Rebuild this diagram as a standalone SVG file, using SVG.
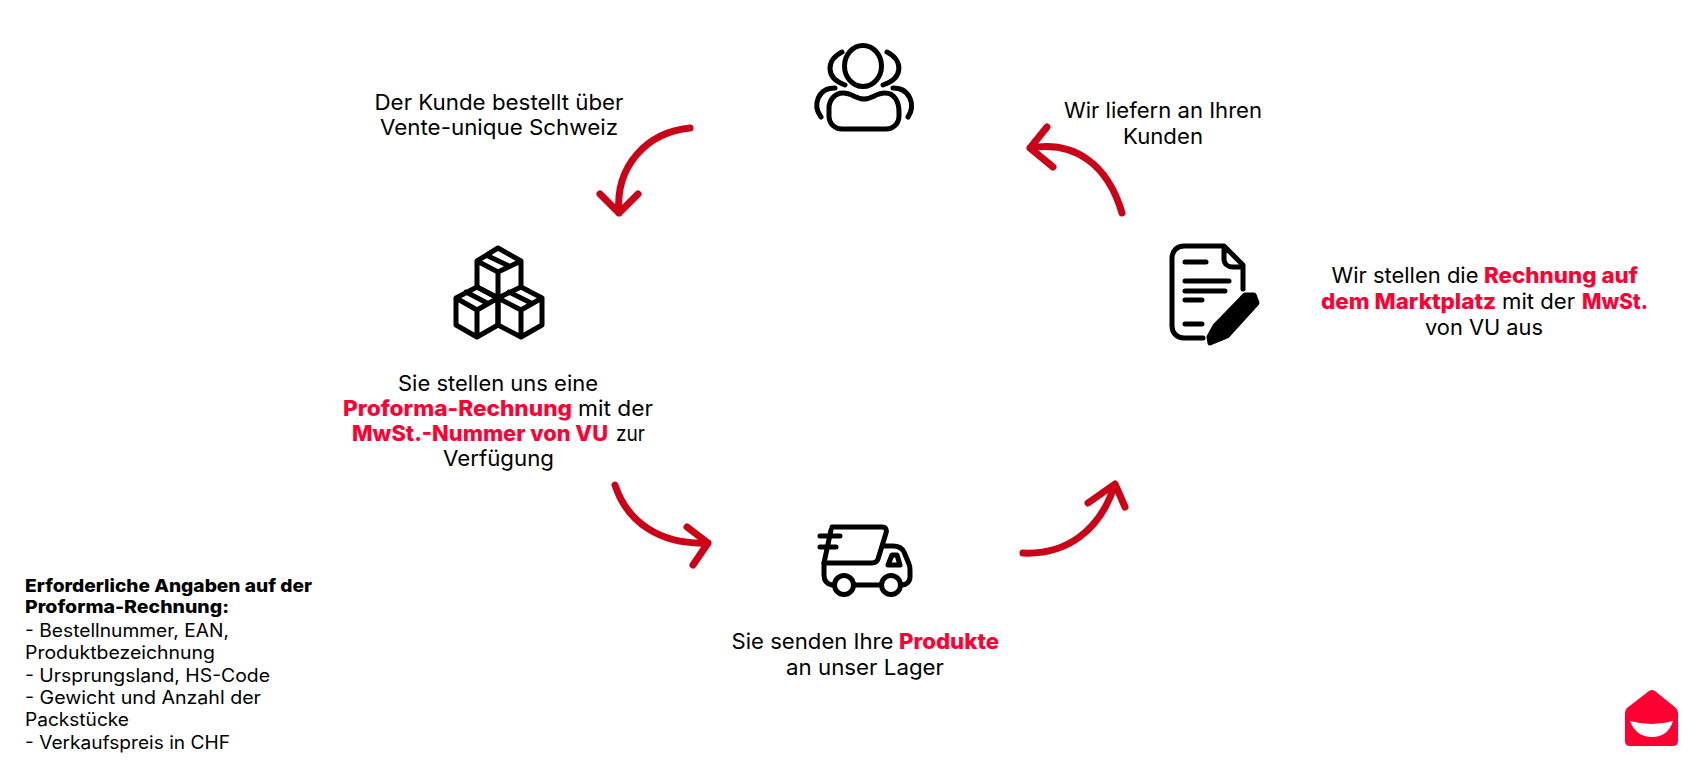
<svg xmlns="http://www.w3.org/2000/svg" width="1692" height="767" viewBox="0 0 1692 767">
<style>
text{font-family:"Inter","Open Sans","Liberation Sans",sans-serif;fill:#000}
.m{font-size:21.500px}
.s{font-size:18px}
.b{font-weight:800}
.r{font-weight:800;fill:#ff0033}
.ic{fill:none;stroke:#000;stroke-width:5;stroke-linecap:round;stroke-linejoin:round}
.ar{fill:none;stroke:#cc0017;stroke-width:7;stroke-linecap:round;stroke-linejoin:round}
</style>
<rect width="1692" height="767" fill="#fff"/>
<g id="connectors">
<path class="ar" d="M690 128C648 132 615 165 619 213M600 194L619 213L638 194"/>
<path class="ar" d="M1122 213C1108 165 1075 140 1030 148M1047 127L1030 148L1053 167"/>
<path class="ar" d="M615 485C627 522 660 545 708 543M687 527L708 543L693 565"/>
<path class="ar" d="M1023 553C1065 555 1100 532 1115 484M1088 503L1115 484L1125 507"/>
</g>
<g id="node-customer">
<g class="ic">
<ellipse cx="863" cy="66" rx="18.500" ry="20.500"/>
<path d="M842 52C826 60 825 78 845 85M887 52C903 60 904 78 883 85"/>
<path d="M835 88C818 88 812 105 821 117M893 88C910 88 916 105 908 117"/>
<path d="M843 93C852 93 856 99 864 99C872 99 876 93 885 93C894 93 899 101 899 112V116C899 124 893 129 886 129H842C835 129 829 124 829 116V108C829 100 835 93 843 93Z"/>
</g>
<text class="m" x="374.500" y="110" textLength="249" lengthAdjust="spacingAndGlyphs">Der Kunde bestellt über</text>
<text class="m" x="380" y="135" textLength="238" lengthAdjust="spacingAndGlyphs">Vente-unique Schweiz</text>
</g>
<g id="node-boxes">
<g class="ic">
<path d="M498 248L521 261V287L498 298L477 287V261ZM477 261L498 272L521 261M498 272V298M488 256L509 266"/>
<path d="M477 287L498 298V325L477 337L456 325V298ZM456 298L477 310L498 298M477 310V337M466 292L487 303"/>
<path d="M521 287L542 298V325L521 337L498 325V298M498 298L521 310L542 298M521 310V337M509 292L531 303"/>
</g>
<text class="m" x="398" y="391" textLength="200" lengthAdjust="spacingAndGlyphs">Sie stellen uns eine</text>
<text class="m" y="416"><tspan class="r" x="343" textLength="229" lengthAdjust="spacingAndGlyphs">Proforma-Rechnung</tspan><tspan x="578" textLength="75" lengthAdjust="spacingAndGlyphs">mit der</tspan></text>
<text class="m" y="441"><tspan class="r" x="352" textLength="256" lengthAdjust="spacingAndGlyphs">MwSt.-Nummer von VU</tspan><tspan x="616" textLength="29" lengthAdjust="spacingAndGlyphs">zur</tspan></text>
<text class="m" x="443" y="466" textLength="111" lengthAdjust="spacingAndGlyphs">Verfügung</text>
</g>
<g id="node-truck">
<g class="ic">
<path d="M832 527H882C886 527 887 530 886 533L878 559C877 562 875 563 872 563H824L831 530"/>
<path d="M820 536H840M820 547H836"/>
<path d="M824 563V575C824 581 827 584 832 585M855 585H880M883 546H893C898 546 902 548 904 552L909 564C910 566 910 568 910 570V577C910 582 906 585 902 585"/>
<circle cx="844" cy="585" r="9.500"/>
<circle cx="891" cy="585" r="9.500"/>
<path d="M888 565L892 555H897L900 565Z"/>
</g>
<text class="m" y="649"><tspan x="731.500" textLength="162" lengthAdjust="spacingAndGlyphs">Sie senden Ihre</tspan><tspan class="r" x="899" textLength="100" lengthAdjust="spacingAndGlyphs">Produkte</tspan></text>
<text class="m" x="786" y="675" textLength="158" lengthAdjust="spacingAndGlyphs">an unser Lager</text>
</g>
<g id="node-invoice">
<g class="ic">
<path d="M1203 338H1184C1177 338 1172 333 1172 326V258C1172 251 1177 246 1184 246H1224L1243 265V289M1224 246V259C1224 264 1228 267 1233 267H1243"/>
<path d="M1185 262H1206M1185 281H1229M1185 291H1225M1185 300H1202M1185 324H1202"/>
</g>
<path d="M1245 295L1254 295L1257 303L1227 336L1210 343L1209 337L1215 326Z" fill="#000" stroke="#000" stroke-width="5" stroke-linejoin="round"/>
<text class="m" y="283"><tspan x="1331.500" textLength="147" lengthAdjust="spacingAndGlyphs">Wir stellen die</tspan><tspan class="r" x="1484" textLength="154" lengthAdjust="spacingAndGlyphs">Rechnung auf</tspan></text>
<text class="m" y="309"><tspan class="r" x="1321" textLength="175" lengthAdjust="spacingAndGlyphs">dem Marktplatz</tspan><tspan x="1502" textLength="73" lengthAdjust="spacingAndGlyphs">mit der</tspan><tspan class="r" x="1582" textLength="66" lengthAdjust="spacingAndGlyphs">MwSt.</tspan></text>
<text class="m" x="1425" y="335" textLength="118" lengthAdjust="spacingAndGlyphs">von VU aus</text>
</g>
<g id="node-delivery">
<text class="m" x="1064" y="118" textLength="198" lengthAdjust="spacingAndGlyphs">Wir liefern an Ihren</text>
<text class="m" x="1123" y="144" textLength="80" lengthAdjust="spacingAndGlyphs">Kunden</text>
</g>
<g id="note">
<text class="s b" x="25" y="592" textLength="287" lengthAdjust="spacingAndGlyphs">Erforderliche Angaben auf der</text>
<text class="s b" x="25" y="613" textLength="204" lengthAdjust="spacingAndGlyphs">Proforma-Rechnung:</text>
<text class="s" x="25" y="637" textLength="204" lengthAdjust="spacingAndGlyphs">- Bestellnummer, EAN,</text>
<text class="s" x="25" y="659" textLength="190" lengthAdjust="spacingAndGlyphs">Produktbezeichnung</text>
<text class="s" x="25" y="682" textLength="245" lengthAdjust="spacingAndGlyphs">- Ursprungsland, HS-Code</text>
<text class="s" x="25" y="704" textLength="236" lengthAdjust="spacingAndGlyphs">- Gewicht und Anzahl der</text>
<text class="s" x="25" y="726" textLength="104" lengthAdjust="spacingAndGlyphs">Packstücke</text>
<text class="s" x="25" y="749" textLength="205" lengthAdjust="spacingAndGlyphs">- Verkaufspreis in CHF</text>
</g>
<g id="logo">
<path d="M1649 691Q1652 689 1655 691L1676 708Q1678 710 1678 713V741Q1678 746 1673 746H1630Q1625 746 1625 741V713Q1625 710 1627 708Z" fill="#ff0033"/>
<path d="M1630 721Q1652 727 1673 721Q1668 737 1652 737Q1636 737 1630 721Z" fill="#fff"/>
</g>
</svg>
